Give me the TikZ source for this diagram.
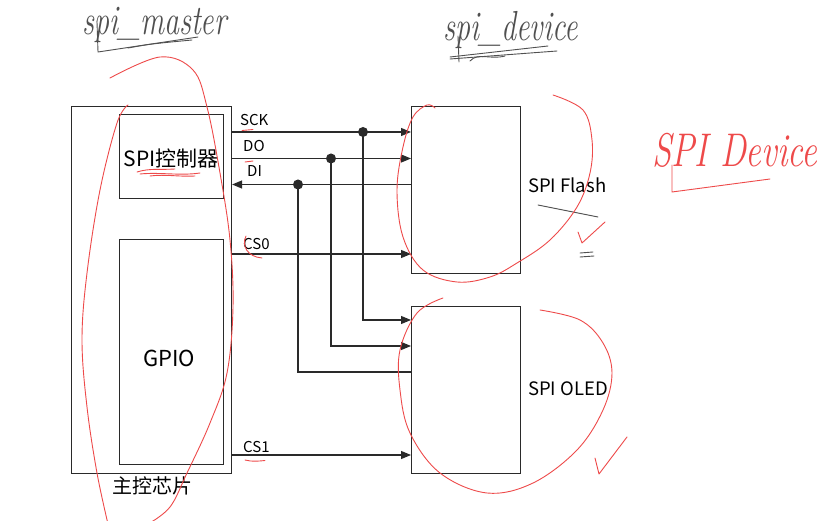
\documentclass[tikz,border=0pt]{standalone}
\usepackage{fontspec}
\usepackage{graphicx}
\setmainfont{Noto Sans CJK SC}
\newfontfamily\handfont{Latin Modern Roman}
\usetikzlibrary{arrows.meta}
\definecolor{ln}{HTML}{2A2A2A}
\definecolor{pen}{HTML}{EE4A4A}
\definecolor{pencil}{HTML}{505050}
\tikzset{
  box/.style={draw=ln, line width=1.1pt, inner sep=0pt, anchor=north west},
  sig/.style={draw=ln, line width=1.1pt},
  sigarrow/.style={sig, -{Triangle[length=10pt,width=8pt]}},
  dot/.style={fill=ln},
  lbl/.style={anchor=base west, inner sep=0pt, text=black, font=\fontsize{15}{17}\selectfont},
  big/.style={inner sep=0pt, text=black, font=\fontsize{21}{24}\selectfont},
  pen/.style={draw=pen, line width=0.9pt, line cap=round, line join=round},
  pencil/.style={draw=pencil, line width=0.9pt, line cap=round, line join=round},
}
\begin{document}
\begin{tikzpicture}[x=1pt,y=-1pt]
\useasboundingbox (0,0) rectangle (830,521);
\fill[white] (0,0) rectangle (830,521);

% boxes
\node[box, minimum width=160pt, minimum height=367pt] (main) at (71,106) {};
\node[box, minimum width=104pt, minimum height=84pt] (ctrl) at (119,114) {};
\node[box, minimum width=104pt, minimum height=225pt] (gpio) at (119,239) {};
\node[box, minimum width=109pt, minimum height=167pt] (flash) at (411,106) {};
\node[box, minimum width=109pt, minimum height=167pt] (oled) at (411,306) {};

% box texts
\node[big] (ctrltxt) at (171,159) {SPI控制器};
\node[big, font=\fontsize{22}{24}\selectfont] (gpiotxt) at (169,358) {GPIO};
\node[inner sep=0pt, font=\fontsize{20}{22}\selectfont] (maintxt) at (152,486) {主控芯片};
\node[inner sep=0pt, anchor=west, font=\fontsize{18.5}{20}\selectfont] (flashtxt) at (528,185) {SPI Flash};
\node[inner sep=0pt, anchor=west, font=\fontsize{18.5}{20}\selectfont] (oledtxt) at (528,389) {SPI OLED};

% junctions
\coordinate (jsck) at (363,132);
\coordinate (jdo) at (331,158.5);
\coordinate (jdi) at (298,184.5);
\coordinate (osck) at (411,320);
\coordinate (odo) at (411,346);
\coordinate (odi) at (411,372);
\coordinate (ycs0) at (0,254);
\coordinate (ycs1) at (0,455);

% signals to flash
\draw[sigarrow] (main.east |- jsck) -- (flash.west |- jsck);
\draw[sigarrow] (main.east |- jdo) -- (flash.west |- jdo);
\draw[sigarrow] (flash.west |- jdi) -- (main.east |- jdi);
\draw[sigarrow] (main.east |- ycs0) -- (flash.west |- ycs0);
% branches to oled
\draw[sigarrow] (jsck) |- (osck);
\draw[sigarrow] (jdo) |- (odo);
\draw[sig] (jdi) |- (odi);
\draw[sigarrow] (main.east |- ycs1) -- (oled.west |- ycs1);
\fill[dot] (jsck) circle (5pt);
\fill[dot] (jdo) circle (5pt);
\fill[dot] (jdi) circle (5pt);

% signal labels
\node[lbl] (lsck) at (240,126) {SCK};
\node[lbl] (ldo) at (243,151.5) {DO};
\node[lbl] (ldi) at (247,176.5) {DI};
\node[lbl] (lcs0) at (243,250) {CS0};
\node[lbl] (lcs1) at (243,452) {CS1};

% ---- hand annotations (pencil) ----
\node[anchor=base west, inner sep=0pt, text=pencil] (hm) at (82,35)
  {\scalebox{1}[1.4]{\handfont\itshape\fontsize{30}{31}\selectfont spi\_master}};
\draw[pencil] (97,22) -- (98,52) -- (198,37);
\draw[pencil] (128,48) .. controls (150,44) .. (192,40);
\node[anchor=base west, inner sep=0pt, text=pencil] (hd) at (443,41)
  {\scalebox{1}[1.4]{\handfont\itshape\fontsize{30}{31}\selectfont spi\_device}};
\draw[pencil] (450,59) -- (557,51);
\draw[pencil] (450,57) -- (548,46);
\draw[pencil] (458,36) -- (459,62);
\draw[pencil] (470,61) .. controls (478,52) and (490,60) .. (505,56);
\draw[pencil] (538,205) -- (598,217);
\draw[pencil] (580,253) -- (593,252);
\draw[pencil] (580,257) -- (594,256);

% ---- red pen annotations ----
\node[anchor=base west, inner sep=0pt, text=pen] (hsd) at (652,167)
  {\scalebox{1}[1.35]{\handfont\itshape\fontsize{35}{38}\selectfont SPI Device}};
\draw[pen] (672,165) -- (672,192) -- (770,179);

\draw[pen] plot[smooth, tension=0.6] coordinates {(110,78) (160,57) (193,70) (207,107) (220,173) (230,240) (233,307) (227,373) (210,423) (187,473) (170,507) (148,524)};
\draw[pen] plot[smooth, tension=0.6] coordinates {(128,105) (117,123) (100,190) (87,273) (82,340) (87,407) (97,473) (108,524)};
\draw[pen] plot[smooth, tension=0.6] coordinates {(553,95) (583,110) (592,140) (590,173) (577,207) (550,240) (517,263) (490,277) (457,282) (423,270) (403,237) (397,190) (403,147) (413,117) (427,105) (435,108)};
\draw[pen] plot[smooth, tension=0.6] coordinates {(443,298) (417,313) (400,350) (400,390) (410,433) (440,473) (487,493) (533,483) (577,450) (603,410) (612,373) (603,343) (580,320) (540,310)};
\draw[pen] (578,232) -- (582,243) -- (605,222);
\draw[pen] (595,458) -- (599,474) -- (627,437);
\draw[pen] (242,130.5) -- (253,129.5);
\draw[pen] (245,162) -- (253,161);
\draw[pen] (246,236) .. controls (241,246) and (248,257) .. (262,258);
\draw[pen] (245,460) .. controls (252,462) and (260,461) .. (265,460.5);
\draw[pen] (137,172) .. controls (150,168) and (160,170) .. (175,169);
\draw[pen] (140,174) .. controls (160,172) and (180,176) .. (200,173);
\draw[pen] (150,176) .. controls (165,174) and (180,177) .. (195,176);
\end{tikzpicture}
\end{document}
